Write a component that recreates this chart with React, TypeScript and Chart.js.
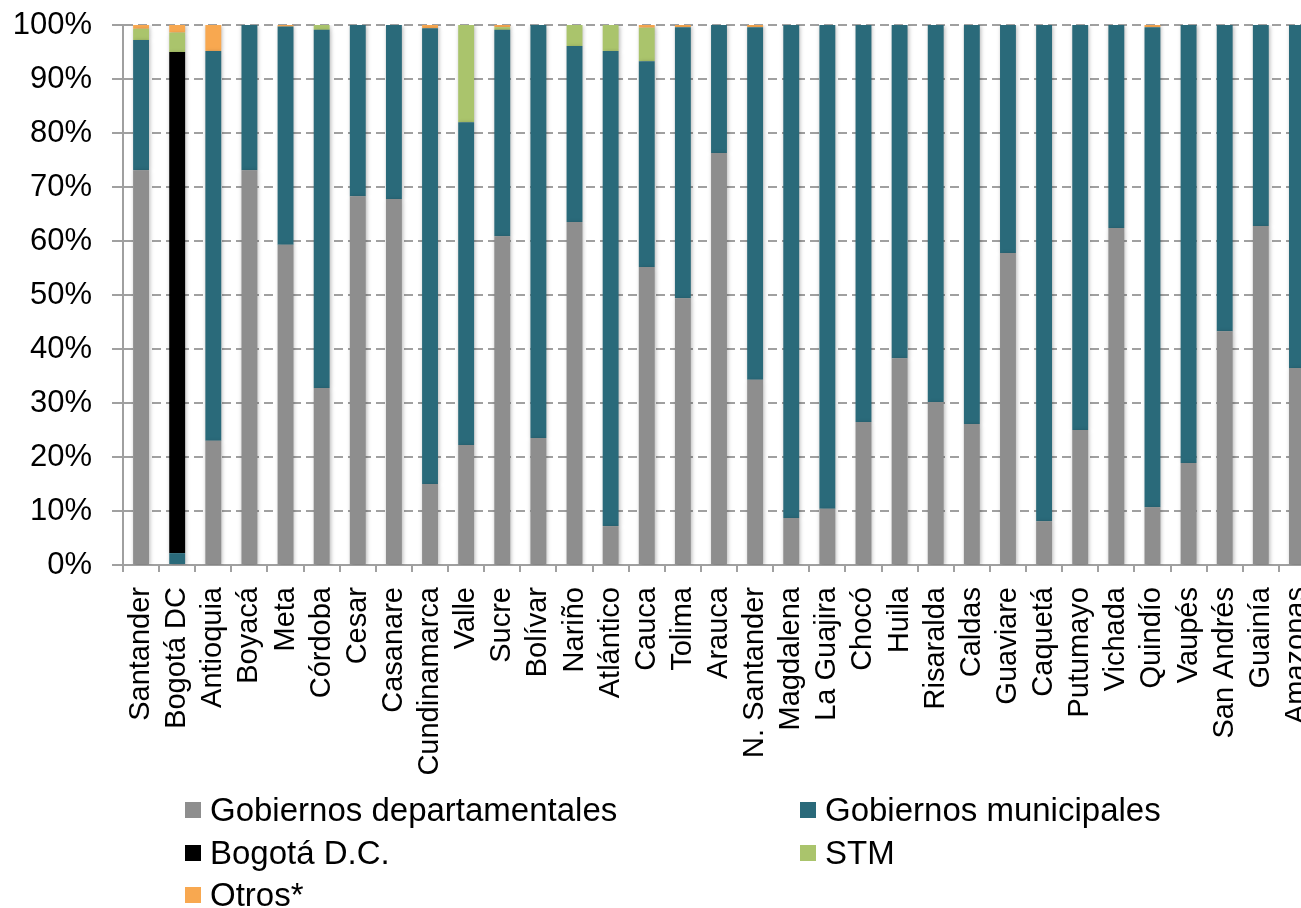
import React, { useEffect, useRef } from "react";
import { Chart, registerables } from "chart.js";

Chart.register(...registerables);

const categories = [
  "Santander", "Bogotá DC", "Antioquia", "Boyacá", "Meta", "Córdoba", "Cesar", "Casanare",
  "Cundinamarca", "Valle", "Sucre", "Bolívar", "Nariño", "Atlántico", "Cauca", "Tolima",
  "Arauca", "N. Santander", "Magdalena", "La Guajira", "Chocó", "Huila", "Risaralda", "Caldas",
  "Guaviare", "Caquetá", "Putumayo", "Vichada", "Quindío", "Vaupés", "San Andrés", "Guainía",
  "Amazonas",
];

const gobDepartamentales = [
  73.1, 0, 23.0, 73.1, 59.3, 32.8, 68.3, 67.8, 15.0, 22.2, 60.9, 23.5, 63.5, 7.2, 55.2, 49.4,
  76.3, 34.3, 8.7, 10.4, 26.5, 38.3, 30.2, 26.1, 57.8, 8.1, 25.0, 62.4, 10.7, 18.9, 43.3, 62.8,
  36.5,
];
const gobMunicipales = [
  24.1, 2.2, 72.2, 26.9, 40.4, 66.3, 31.7, 32.2, 84.4, 59.8, 38.2, 76.5, 32.6, 88.0, 38.1, 50.2,
  23.7, 65.3, 91.3, 89.6, 73.5, 61.7, 69.8, 73.9, 42.2, 91.9, 75.0, 37.6, 88.9, 81.1, 56.7, 37.2,
  63.5,
];
const bogotaDC = [
  0, 92.8, 0, 0, 0, 0, 0, 0, 0, 0, 0, 0, 0, 0, 0, 0,
  0, 0, 0, 0, 0, 0, 0, 0, 0, 0, 0, 0, 0, 0, 0, 0,
  0,
];
const stm = [
  2.1, 3.6, 0, 0, 0, 0.9, 0, 0, 0, 18.0, 0.5, 0, 3.9, 4.8, 6.2, 0,
  0, 0, 0, 0, 0, 0, 0, 0, 0, 0, 0, 0, 0, 0, 0, 0,
  0,
];
const otros = [
  0.7, 1.4, 4.8, 0, 0.3, 0, 0, 0, 0.6, 0, 0.4, 0, 0, 0, 0.5, 0.4,
  0, 0.4, 0, 0, 0, 0, 0, 0, 0, 0, 0, 0, 0.4, 0, 0, 0,
  0,
];
const yTickValues = [0, 10, 20, 30, 40, 50, 60, 70, 80, 90, 100];

const seriesNames = [
  "Gobiernos departamentales",
  "Gobiernos municipales",
  "Bogotá D.C.",
  "STM",
  "Otros*",
];
const seriesColors = ["#8E8E8E", "#2A6A7A", "#000000", "#AAC46C", "#F8A850"];

const FONT = "'Liberation Sans', Arial, Helvetica, sans-serif";
const AXIS_GRAY = "#A0A0A0";

const legendItems = [
  { i: 0, left: 185, top: 810 },
  { i: 1, left: 800, top: 810 },
  { i: 2, left: 185, top: 853 },
  { i: 3, left: 800, top: 853 },
  { i: 4, left: 185, top: 895 },
];

const barShadow = {
  id: "barShadow",
  beforeDatasetsDraw(chart: any) {
    const ctx = chart.ctx;
    ctx.save();
    ctx.shadowColor = "rgba(0,0,0,0.28)";
    ctx.shadowBlur = 4;
    ctx.shadowOffsetX = 1;
    ctx.shadowOffsetY = 1;
  },
  afterDatasetsDraw(chart: any) {
    chart.ctx.restore();
  },
};

export default function App() {
  const ref = useRef<HTMLCanvasElement>(null);

  useEffect(() => {
    document.body.style.margin = "0";
    const canvas = ref.current!;
    const seriesData = [gobDepartamentales, gobMunicipales, bogotaDC, stm, otros];
    const chart = new Chart(canvas, {
      type: "bar",
      data: {
        labels: categories,
        datasets: seriesNames.map((name, k) => ({
          label: name,
          data: seriesData[k],
          backgroundColor: seriesColors[k],
          borderWidth: 0,
          barPercentage: 0.44,
          categoryPercentage: 1,
        })),
      },
      plugins: [barShadow],
      options: {
        animation: false,
        responsive: false,
        devicePixelRatio: 1,
        layout: { padding: { top: 25, right: 15, left: 0, bottom: 0 } },
        plugins: {
          legend: { display: false },
          tooltip: { enabled: false },
        },
        scales: {
          x: {
            stacked: true,
            offset: true,
            grid: {
              display: true,
              drawOnChartArea: false,
              offset: true,
              tickLength: 7,
              color: AXIS_GRAY,
              lineWidth: 2,
            },
            border: { display: true, color: AXIS_GRAY, width: 2 },
            ticks: {
              autoSkip: false,
              maxRotation: 90,
              minRotation: 90,
              padding: 15,
              color: "#000",
              font: { family: FONT, size: 29 },
            },
            afterFit: (s: any) => {
              s.height = 908 - 565;
              s.paddingLeft = 0;
              s.paddingRight = 0;
            },
          },
          y: {
            stacked: true,
            min: 0,
            max: 100,
            afterBuildTicks: (s: any) => {
              s.ticks = yTickValues.map((v) => ({ value: v }));
            },
            ticks: {
              callback: (v: any) => v + "%",
              padding: 20,
              color: "#000",
              font: { family: FONT, size: 31 },
            },
            grid: {
              color: AXIS_GRAY,
              lineWidth: 2,
              tickLength: 11,
              tickBorderDash: [],
            },
            border: { display: true, color: AXIS_GRAY, width: 2, dash: [9, 5] },
            afterFit: (s: any) => {
              s.width = 123;
              s.paddingTop = 0;
              s.paddingBottom = 0;
            },
          },
        },
      },
    } as any);
    return () => chart.destroy();
  }, []);

  return (
    <div
      style={{
        position: "absolute",
        left: 0,
        top: 0,
        width: 1301,
        height: 908,
        overflow: "hidden",
        background: "#fff",
      }}
    >
      <canvas ref={ref} width={1330} height={908} style={{ display: "block", width: 1330, height: 908 }} />
      {legendItems.map((it) => (
        <div
          key={it.i}
          style={{
            position: "absolute",
            left: it.left,
            top: it.top - 19,
            height: 38,
            display: "flex",
            alignItems: "center",
            fontFamily: FONT,
            fontSize: 33,
            color: "#000",
            whiteSpace: "nowrap",
          }}
        >
          <span
            style={{
              display: "inline-block",
              width: 16,
              height: 16,
              background: seriesColors[it.i],
              marginRight: 9,
            }}
          />
          <span>{seriesNames[it.i]}</span>
        </div>
      ))}
    </div>
  );
}
